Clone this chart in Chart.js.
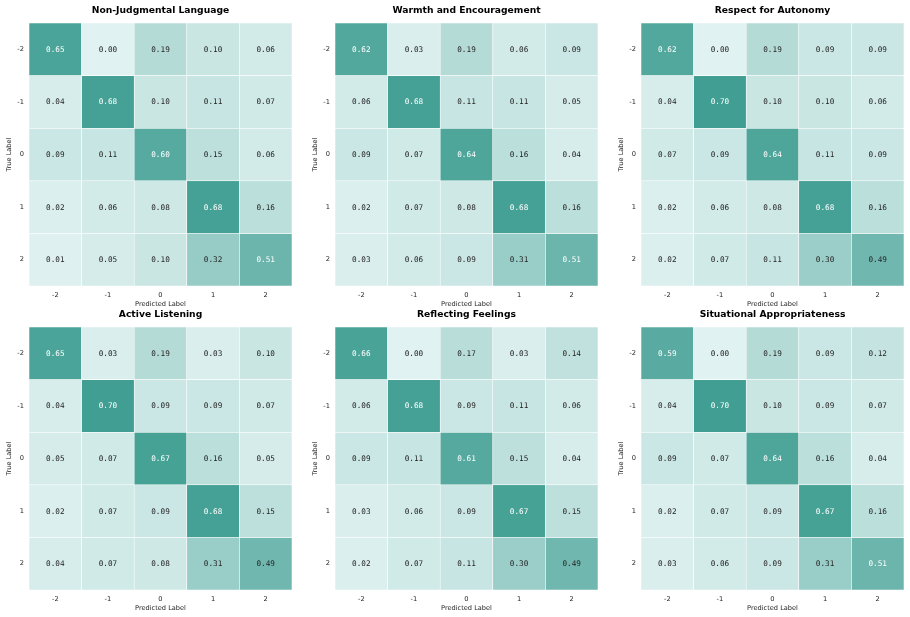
<!DOCTYPE html>
<html>
<head>
<meta charset="utf-8">
<script src="https://cdn.jsdelivr.net/npm/chart.js@4/dist/chart.umd.min.js"></script>
<style>
  body { margin: 0; background: #fff; }
  #wrap { position: relative; width: 910px; height: 617px; overflow: hidden; }
  .panel { position: absolute; width: 298px; height: 312px; }
</style>
</head>
<body>
<div id="wrap"></div>
<script>
// labels for both axes
const classLabels = ['-2', '-1', '0', '1', '2'];
const rowValues = [-2, -1, 0, 1, 2];

const titles = [
  'Non-Judgmental Language',
  'Warmth and Encouragement',
  'Respect for Autonomy',
  'Active Listening',
  'Reflecting Feelings',
  'Situational Appropriateness'
];

// rows = true label, columns = predicted label
const nonJudgmental = [
  [0.65, 0.00, 0.19, 0.10, 0.06],
  [0.04, 0.68, 0.10, 0.11, 0.07],
  [0.09, 0.11, 0.60, 0.15, 0.06],
  [0.02, 0.06, 0.08, 0.68, 0.16],
  [0.01, 0.05, 0.10, 0.32, 0.51]
];
const warmth = [
  [0.62, 0.03, 0.19, 0.06, 0.09],
  [0.06, 0.68, 0.11, 0.11, 0.05],
  [0.09, 0.07, 0.64, 0.16, 0.04],
  [0.02, 0.07, 0.08, 0.68, 0.16],
  [0.03, 0.06, 0.09, 0.31, 0.51]
];
const autonomy = [
  [0.62, 0.00, 0.19, 0.09, 0.09],
  [0.04, 0.70, 0.10, 0.10, 0.06],
  [0.07, 0.09, 0.64, 0.11, 0.09],
  [0.02, 0.06, 0.08, 0.68, 0.16],
  [0.02, 0.07, 0.11, 0.30, 0.49]
];
const listening = [
  [0.65, 0.03, 0.19, 0.03, 0.10],
  [0.04, 0.70, 0.09, 0.09, 0.07],
  [0.05, 0.07, 0.67, 0.16, 0.05],
  [0.02, 0.07, 0.09, 0.68, 0.15],
  [0.04, 0.07, 0.08, 0.31, 0.49]
];
const feelings = [
  [0.66, 0.00, 0.17, 0.03, 0.14],
  [0.06, 0.68, 0.09, 0.11, 0.06],
  [0.09, 0.11, 0.61, 0.15, 0.04],
  [0.03, 0.06, 0.09, 0.67, 0.15],
  [0.02, 0.07, 0.11, 0.30, 0.49]
];
const appropriateness = [
  [0.59, 0.00, 0.19, 0.09, 0.12],
  [0.04, 0.70, 0.10, 0.09, 0.07],
  [0.09, 0.07, 0.64, 0.16, 0.04],
  [0.02, 0.07, 0.09, 0.67, 0.16],
  [0.03, 0.06, 0.09, 0.31, 0.51]
];

const matrices = [nonJudgmental, warmth, autonomy, listening, feelings, appropriateness];

// light -> teal colormap
function cellColor(v) {
  const t = Math.max(0, Math.min(1, v / 0.7));
  const lo = [224, 242, 241], hi = [64, 158, 146];
  const c = lo.map((l, i) => Math.round(l + (hi[i] - l) * t));
  return `rgb(${c[0]},${c[1]},${c[2]})`;
}

const cellText = {
  id: 'cellText',
  afterDatasetsDraw(chart) {
    const ctx = chart.ctx;
    ctx.save();
    ctx.font = '7.7px "DejaVu Sans Mono", monospace';
    ctx.textAlign = 'center';
    ctx.textBaseline = 'middle';
    chart.data.datasets.forEach((ds, i) => {
      chart.getDatasetMeta(i).data.forEach((el, j) => {
        const v = ds.values[j];
        ctx.fillStyle = v > 0.5 ? '#ffffff' : '#262626';
        ctx.fillText(v.toFixed(2), el.x, (el.y + el.base) / 2 + 0.5);
      });
    });
    // panel title over the plot area
    const a = chart.chartArea;
    ctx.font = 'bold 9.2px "DejaVu Sans", sans-serif';
    ctx.fillStyle = '#000';
    ctx.fillText(chart.options.plugins.panelTitle, (a.left + a.right) / 2, a.top - 12);
    ctx.restore();
  }
};

const wrap = document.getElementById('wrap');
const lefts = [0, 306, 612];
const tops = [0, 304];

matrices.forEach((m, k) => {
  const div = document.createElement('div');
  div.className = 'panel';
  div.style.left = lefts[k % 3] + 'px';
  div.style.top = tops[Math.floor(k / 3)] + 'px';
  const canvas = document.createElement('canvas');
  div.appendChild(canvas);
  wrap.appendChild(div);

  const datasets = m.map((row, i) => ({
    data: row.map(() => [rowValues[i] - 0.5, rowValues[i] + 0.5]),
    values: row,
    backgroundColor: row.map(cellColor),
    borderColor: '#ffffff',
    borderWidth: 0.6,
    borderSkipped: false,
    grouped: false,
    barPercentage: 1,
    categoryPercentage: 1
  }));

  new Chart(canvas, {
    type: 'bar',
    data: { labels: classLabels, datasets: datasets },
    options: {
      responsive: true,
      maintainAspectRatio: false,
      animation: false,
      layout: { padding: { top: 23, right: 6, left: 0, bottom: 0 } },
      plugins: {
        legend: { display: false },
        tooltip: { enabled: false },
        panelTitle: titles[k]
      },
      scales: {
        x: {
          offset: true,
          grid: { display: false, drawTicks: false },
          border: { display: false },
          ticks: { padding: 5, color: '#262626', font: { family: 'DejaVu Sans', size: 6.7 } },
          title: {
            display: true, text: 'Predicted Label', color: '#262626',
            font: { family: 'DejaVu Sans', size: 6.6 }, padding: { top: 0, bottom: 4 }
          },
          afterFit: s => { s.height = 26; }
        },
        y: {
          type: 'linear',
          min: -2.5,
          max: 2.5,
          reverse: true,
          grid: { display: false, drawTicks: false },
          border: { display: false },
          afterBuildTicks: s => { s.ticks = rowValues.map(v => ({ value: v })); },
          ticks: {
            padding: 5, color: '#262626', font: { family: 'DejaVu Sans', size: 6.7 },
            callback: v => String(v)
          },
          title: {
            display: true, text: 'True Label', color: '#262626',
            font: { family: 'DejaVu Sans', size: 6.6 }, padding: { top: 5, bottom: 0 }
          },
          afterFit: s => { s.width = 29; }
        }
      }
    },
    plugins: [cellText]
  });
});
</script>
</body>
</html>
